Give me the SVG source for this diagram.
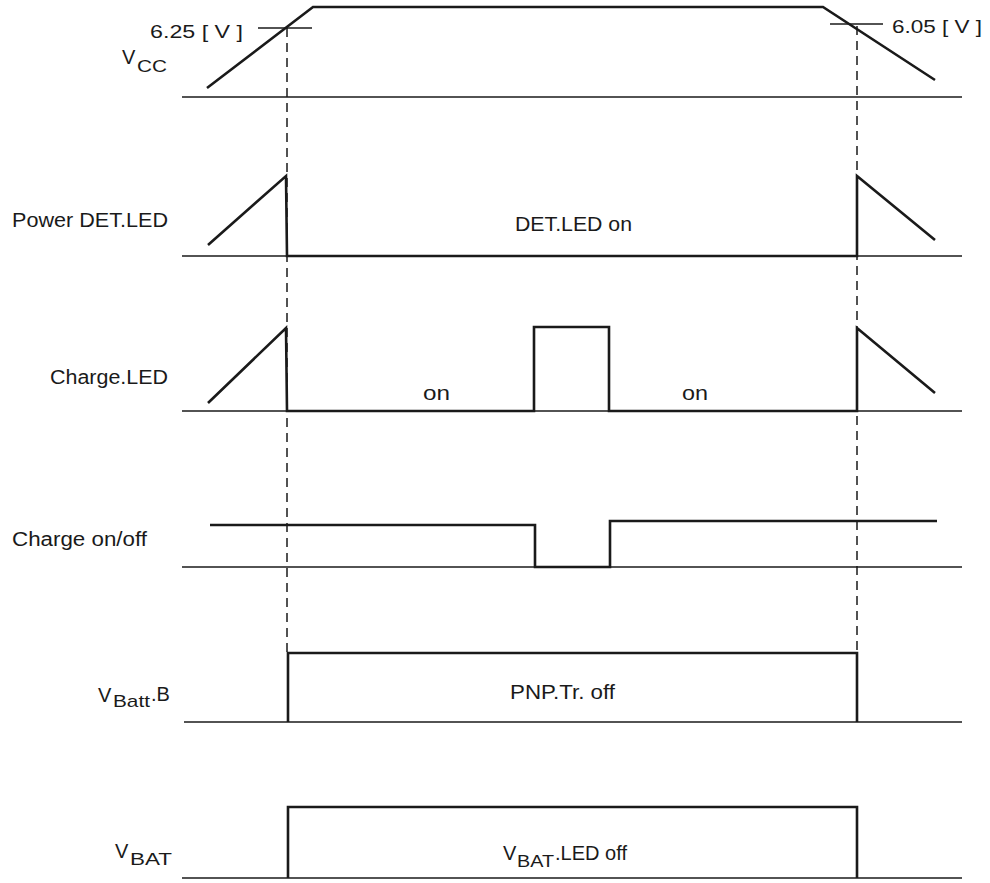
<svg xmlns="http://www.w3.org/2000/svg" width="990" height="883" viewBox="0 0 990 883">
<style>
.wave{fill:none;stroke:#1a1a1a;stroke-width:2.6;stroke-linejoin:miter}
.base{fill:none;stroke:#1a1a1a;stroke-width:1.5}
.tick{fill:none;stroke:#1a1a1a;stroke-width:1.3}
.dash{fill:none;stroke:#1a1a1a;stroke-width:1.5;stroke-dasharray:9 6}
text{font-family:"Liberation Sans",Arial,sans-serif;font-size:20px;fill:#1a1a1a}
.sub{font-size:17px}
.volt{font-size:18px}
</style>
<rect width="990" height="883" fill="#fff"/>
<g id="connectors">
<line class="dash" x1="287" y1="28" x2="287" y2="652"/>
<line class="dash" x1="857" y1="26" x2="857" y2="652"/>
</g>
<g id="vcc">
<line class="base" x1="182" y1="97" x2="962" y2="97"/>
<polyline class="wave" points="207,88 313,7 823,7 935,80"/>
<line class="tick" x1="258" y1="28" x2="312" y2="28"/>
<line class="tick" x1="830" y1="24" x2="883" y2="24"/>
<text class="volt" x="150" y="38" textLength="93" lengthAdjust="spacingAndGlyphs">6.25 [ V ]</text>
<text class="volt" x="892" y="33" textLength="90" lengthAdjust="spacingAndGlyphs">6.05 [ V ]</text>
<text x="122" y="64">V</text>
<text class="sub" x="137" y="72" textLength="30" lengthAdjust="spacingAndGlyphs">CC</text>
</g>
<g id="power-det-led">
<line class="base" x1="182" y1="256" x2="962" y2="256"/>
<polyline class="wave" points="208,245 286,176 287,256 857,256 857,176 935,240"/>
<text x="12" y="227" textLength="156" lengthAdjust="spacingAndGlyphs">Power DET.LED</text>
<text x="515" y="231" textLength="117" lengthAdjust="spacingAndGlyphs">DET.LED on</text>
</g>
<g id="charge-led">
<line class="base" x1="182" y1="411" x2="962" y2="411"/>
<polyline class="wave" points="208,403 286,328 287,411 534,411 534,327 609,327 609,411 857,411 857,328 935,393"/>
<text x="50" y="384" textLength="118" lengthAdjust="spacingAndGlyphs">Charge.LED</text>
<text x="423" y="400" textLength="27" lengthAdjust="spacingAndGlyphs">on</text>
<text x="682" y="400" textLength="26" lengthAdjust="spacingAndGlyphs">on</text>
</g>
<g id="charge-onoff">
<line class="base" x1="182" y1="567" x2="962" y2="567"/>
<polyline class="wave" points="210,525 535,525 535,567 610,567 610,521 937,521"/>
<text x="12" y="546" textLength="135" lengthAdjust="spacingAndGlyphs">Charge on/off</text>
</g>
<g id="vbatt-b">
<line class="base" x1="184" y1="722" x2="962" y2="722"/>
<polyline class="wave" points="288,722 288,653 857,653 857,722"/>
<text x="98" y="702">V</text>
<text class="sub" x="113" y="707" textLength="37" lengthAdjust="spacingAndGlyphs">Batt</text>
<text x="151" y="701">.B</text>
<text x="510" y="699" textLength="105" lengthAdjust="spacingAndGlyphs">PNP.Tr. off</text>
</g>
<g id="vbat">
<line class="base" x1="182" y1="878" x2="962" y2="878"/>
<polyline class="wave" points="288,878 288,807 857,807 857,878"/>
<text x="115" y="858">V</text>
<text class="sub" x="130" y="865" textLength="42" lengthAdjust="spacingAndGlyphs">BAT</text>
<text x="503" y="860">V</text>
<text class="sub" x="517" y="867" textLength="37" lengthAdjust="spacingAndGlyphs">BAT</text>
<text x="555" y="860" textLength="72" lengthAdjust="spacingAndGlyphs">.LED off</text>
</g>
</svg>
